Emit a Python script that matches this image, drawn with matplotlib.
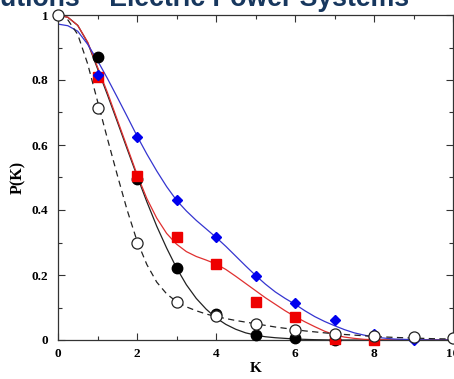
import matplotlib
matplotlib.use('Agg')
import matplotlib.pyplot as plt
from matplotlib.ticker import MultipleLocator, FixedLocator, FixedFormatter

### Data
# filled black circles
black_k = [1, 2, 3, 4, 5, 6, 7]
black_p = [0.87, 0.495, 0.222, 0.08, 0.015, 0.006, 0.0]
# red squares
red_k = [1, 2, 3, 4, 5, 6, 7, 8]
red_p = [0.81, 0.505, 0.317, 0.234, 0.118, 0.07, 0.004, 0.0]
# blue diamonds
blue_k = [1, 2, 3, 4, 5, 6, 7, 8, 9]
blue_p = [0.816, 0.625, 0.43, 0.318, 0.197, 0.113, 0.062, 0.018, 0.0]
# open circles
open_k = [0, 1, 2, 3, 4, 5, 6, 7, 8, 9, 10]
open_p = [1.0, 0.715, 0.30, 0.118, 0.074, 0.048, 0.031, 0.02, 0.012, 0.008, 0.005]

# fitted curves
curve_k = [0, 0.25, 0.5, 0.75, 1.0, 1.25, 1.5, 1.75, 2.0, 2.25, 2.5, 2.75,
           3.0, 3.25, 3.5, 3.75, 4.0, 4.25, 4.5, 4.75, 5.0, 5.25, 5.5, 5.75,
           6.0, 6.25, 6.5, 6.75, 7.0, 7.25, 7.5, 7.75, 8.0, 8.5, 9.0, 9.5, 10.0]
black_fit = [1.0, 0.993, 0.968, 0.915, 0.835, 0.755, 0.672, 0.588, 0.505, 0.425, 0.35, 0.283,
             0.222, 0.17, 0.128, 0.095, 0.068, 0.048, 0.033, 0.022, 0.015, 0.01, 0.007, 0.005,
             0.003, 0.002, 0.001, 0.0005, 0.0, 0.0, 0.0, 0.0, 0.0, 0.0, 0.0, 0.0, 0.0]
red_fit = [1.0, 0.993, 0.968, 0.917, 0.84, 0.762, 0.678, 0.594, 0.51, 0.435, 0.375, 0.328,
           0.295, 0.272, 0.257, 0.246, 0.234, 0.217, 0.196, 0.174, 0.152, 0.13, 0.11, 0.09,
           0.072, 0.056, 0.041, 0.027, 0.016, 0.009, 0.005, 0.002, 0.001, 0.0, 0.0, 0.0, 0.0]
blue_fit = [0.972, 0.967, 0.95, 0.91, 0.86, 0.805, 0.747, 0.688, 0.628, 0.572, 0.52, 0.472,
            0.43, 0.397, 0.368, 0.342, 0.316, 0.288, 0.258, 0.228, 0.199, 0.172, 0.148, 0.128,
            0.11, 0.09, 0.072, 0.057, 0.044, 0.032, 0.022, 0.015, 0.009, 0.003, 0.001, 0.0, 0.0]
dash_fit = [1.0, 0.985, 0.94, 0.85, 0.735, 0.62, 0.508, 0.40, 0.305, 0.232, 0.178, 0.142,
            0.118, 0.102, 0.09, 0.08, 0.072, 0.066, 0.06, 0.055, 0.05, 0.045, 0.04, 0.036,
            0.032, 0.028, 0.025, 0.022, 0.019, 0.017, 0.015, 0.013, 0.011, 0.008, 0.006, 0.004, 0.003]

y_ticks = [0, 0.2, 0.4, 0.6, 0.8, 1.0]
y_labels = ['0', '0.2', '0.4', '0.6', '0.8', '1']
x_ticks = [0, 2, 4, 6, 8, 10]
x_labels = ['0', '2', '4', '6', '8', '10']

### Figure
fig = plt.figure(figsize=(4.54, 3.79), dpi=100)
ax = fig.add_axes([58 / 454, 39 / 379, 395 / 454, 325 / 379])

ax.plot(curve_k, black_fit, color='#222222', lw=0.9)
ax.plot(curve_k, red_fit, color='#e03030', lw=0.9)
ax.plot(curve_k, blue_fit, color='#3535d0', lw=0.9)
ax.plot(curve_k, dash_fit, color='#222222', lw=0.9, dashes=(5, 3.5))

ax.plot(black_k, black_p, 'o', color='black', ms=7.5, clip_on=False, zorder=4)
ax.plot(red_k, red_p, 's', color='#ee0000', ms=6.5, clip_on=False, zorder=5)
ax.plot(blue_k, blue_p, 'D', color='#0000ee', ms=5.5, clip_on=False, zorder=6)
ax.plot(open_k, open_p, 'o', mfc='white', mec='#222222', mew=0.9, ms=8,
        clip_on=False, zorder=7)

ax.set_xlim(0, 10)
ax.set_ylim(0, 1)

ax.xaxis.set_major_locator(FixedLocator(x_ticks))
ax.xaxis.set_major_formatter(FixedFormatter(x_labels))
ax.xaxis.set_minor_locator(MultipleLocator(1))
ax.yaxis.set_major_locator(FixedLocator(y_ticks))
ax.yaxis.set_major_formatter(FixedFormatter(y_labels))
ax.yaxis.set_minor_locator(MultipleLocator(0.1))
ax.tick_params(which='both', direction='in', top=True, right=True, color='#333333', width=0.8)
ax.tick_params(which='major', length=5)
ax.tick_params(which='minor', length=3)
ax.tick_params(axis='y', pad=7)
ax.tick_params(axis='x', pad=5.5)
for lab in ax.get_xticklabels() + ax.get_yticklabels():
    lab.set_fontfamily('Liberation Serif')
    lab.set_fontweight('bold')
    lab.set_fontsize(9.5)
for sp in ax.spines.values():
    sp.set_linewidth(0.9)
    sp.set_color('#333333')

ax.set_xlabel('K', fontdict={'family': 'Liberation Serif', 'weight': 'bold', 'size': 11}, labelpad=2)
ax.set_ylabel('P(K)', fontdict={'family': 'Liberation Serif', 'weight': 'bold', 'size': 11.5}, labelpad=4)

# cropped slide title at the top edge
fig.text(0.0, 1 - 6.5 / 379, 'utions \u2013 Electric Power Systems', ha='left', va='baseline',
         family='Liberation Sans', weight='bold', size=19.2, color='#17375e')

fig.savefig('out.png', dpi=100)
